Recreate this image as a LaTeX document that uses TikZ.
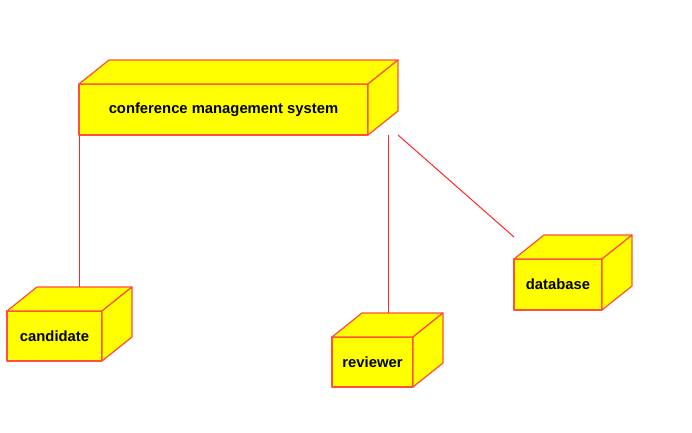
\documentclass[tikz,border=0pt]{standalone}
\usepackage{fontspec}
\setmainfont{Liberation Sans}
\usetikzlibrary{calc}
\definecolor{edgered}{RGB}{255,80,60}
\definecolor{boxyellow}{RGB}{255,255,0}
\definecolor{linkred}{RGB}{255,40,40}
\tikzset{
  dbox/.style={draw=edgered, fill=boxyellow, line width=1.2pt, inner sep=0pt, outer sep=0pt,
    font=\fontsize{14.8}{17}\selectfont\bfseries, line join=round},
  face/.style={draw=edgered, fill=boxyellow, line width=1.2pt, line join=round},
  link/.style={draw=linkred, line width=1pt}
}
\newcommand{\cubeface}[3]{% name, width, height
  \path[face] (#1.north west) -- ++(30,-24) -- ++(#2,0) -- (#1.north east) -- cycle;
  \path[face] (#1.north east) -- ++(30,-24) -- ++(0,#3) -- (#1.south east) -- cycle;
}
\begin{document}
\begin{tikzpicture}[x=1pt,y=-1pt]
\useasboundingbox (0,0) rectangle (692,432);
\node[dbox, minimum width=289pt, minimum height=51pt] (main) at (223.5,109.5) {conference management system};
\cubeface{main}{289}{51}
\node[dbox, minimum width=95pt, minimum height=50pt] (cand) at (54.5,336) {candidate};
\cubeface{cand}{95}{50}
\node[dbox, minimum width=81pt, minimum height=50pt] (rev) at (372.5,362) {reviewer};
\cubeface{rev}{81}{50}
\node[dbox, minimum width=88pt, minimum height=51pt] (db) at (558,284.5) {database};
\cubeface{db}{88}{51}
\coordinate (candtop) at ($(cand.north west)+(30,-24)$);
\coordinate (revtop) at ($(rev.north west)+(30,-24)$);
\coordinate (maincand) at (79.5,135);
\coordinate (mainrev) at (388.5,135);
\coordinate (maindb) at (398,135);
\coordinate (dbend) at (514,237);
\draw[link] (maincand) -- (maincand |- candtop);
\draw[link] (mainrev) -- (mainrev |- revtop);
\draw[link] (maindb) -- (dbend);
\end{tikzpicture}
\end{document}
